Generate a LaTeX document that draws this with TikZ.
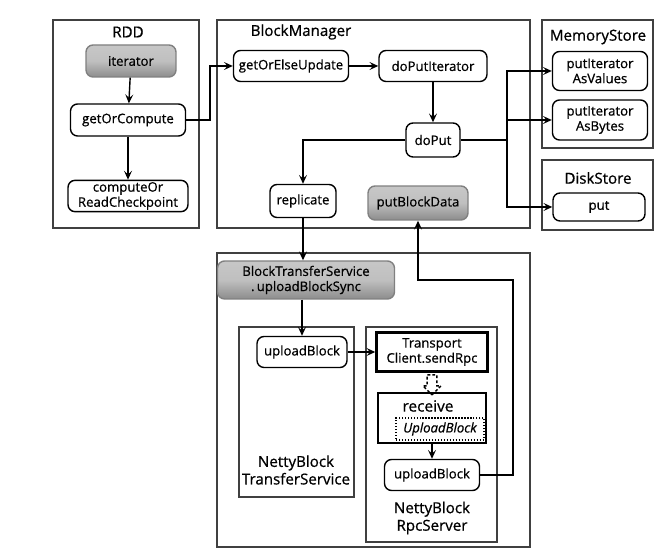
\documentclass[tikz,border=0pt]{standalone}
\usepackage{fontspec}
\setmainfont{Open Sans}[FakeBold=0.7]
\usepackage{tikz}
\usetikzlibrary{positioning,calc,arrows.meta,shapes}
\tikzset{grp/.style={draw=black!75, line width=0.7pt}}
\tikzset{ttl/.style={font=\fontsize{8.6}{10}\selectfont, align=center, inner sep=0pt}}
\tikzset{fn/.style={draw, line width=0.8pt, rounded corners=4, align=center, inner sep=1pt, font=\fontsize{7.5}{8.6}\selectfont}}
\tikzset{fngray/.style={fn, draw=black!50, top color=black!22, bottom color=black!45, middle color=black!25}}
\tikzset{rpc/.style={draw, line width=1.4pt, align=center, inner sep=1pt, font=\fontsize{7.5}{8.6}\selectfont}}
\tikzset{arr/.style={draw, -{Stealth[length=5pt,width=4.5pt,inset=2pt]}, line width=0.8pt}}
\tikzset{arr2/.style={draw, line width=0.8pt}}

\begin{document}
\begin{tikzpicture}[x=0.02cm, y=-0.02cm]
\useasboundingbox[fill=white] (0,0) rectangle (667,557);
% group boxes
\draw[grp] (53,20) rectangle (199,228);
\draw[grp] (217,20) rectangle (530,228);
\draw[grp] (542,20) rectangle (653,148);
\draw[grp] (542,160) rectangle (653,230);
\draw[grp] (217,253) rectangle (530,547);
\draw[grp] (239,327) rectangle (354,497);
\draw[grp] (366,327) rectangle (497,542);
%
\node[ttl] (trdd) at (128,32) {RDD};
\node[ttl] (tbm) at (301,32) {BlockManager};
\node[ttl] (tms) at (598,37) {MemoryStore};
\node[ttl] (tds) at (598,178) {DiskStore};
\node[ttl] (tnbts) at (296,470) {NettyBlock\\TransferService};
\node[ttl] (tnbrs) at (432,518) {NettyBlock\\RpcServer};
% RDD
\node[fngray, minimum width=1.8cm, minimum height=0.64cm] (iter) at (131,61) {iterator};
\node[fn, minimum width=2.3cm, minimum height=0.64cm] (goc) at (128,120) {getOrCompute};
\node[fn, minimum width=2.4cm, minimum height=0.62cm] (corc) at (128,196) {computeOr\\ReadCheckpoint};
% BlockManager
\node[fn, minimum width=2.3cm, minimum height=0.62cm] (goeu) at (291,66) {getOrElseUpdate};
\node[fn, minimum width=2.16cm, minimum height=0.62cm] (dpi) at (433,66) {doPutIterator};
\node[fn, minimum width=1.08cm, minimum height=0.68cm] (doput) at (433,140) {doPut};
\node[fn, minimum width=1.32cm, minimum height=0.66cm] (repl) at (303,201) {replicate};
\node[fngray, minimum width=2cm, minimum height=0.68cm] (pbd) at (418,203) {putBlockData};
% stores
\node[fn, minimum width=1.9cm, minimum height=0.78cm] (piv) at (600,71) {putIterator\\AsValues};
\node[fn, minimum width=1.9cm, minimum height=0.8cm] (pib) at (600,120) {putIterator\\AsBytes};
\node[fn, minimum width=1.84cm, minimum height=0.56cm] (dput) at (599,207) {put};
% transfer
\node[fngray, minimum width=3.54cm, minimum height=0.76cm] (ubs) at (306,280) {BlockTransferService\\.\,uploadBlockSync};
\node[fn, minimum width=1.8cm, minimum height=0.62cm] (ubl) at (302,352) {uploadBlock};
\node[rpc, minimum width=2.22cm, minimum height=0.78cm] (send) at (432,352) {Transport\\Client.sendRpc};
\node[rpc, minimum width=2.16cm, minimum height=1cm] (recv) at (432,418) {};
\node[font=\fontsize{8.8}{10}\selectfont, inner sep=0pt] (recvt) at (428,406) {receive};
\node[draw, densely dotted, line width=0.7pt, minimum width=1.76cm, minimum height=0.44cm, inner sep=1pt, font=\itshape\fontsize{7.5}{8.6}\selectfont] (upb) at (440,429) {UploadBlock};
\node[fn, minimum width=1.9cm, minimum height=0.62cm] (ubr) at (432,475) {uploadBlock};
% hollow dashed arrow send -> receive
\node[single arrow, draw, dash pattern=on 1.6pt off 1.2pt, line width=0.8pt, rotate=-90, minimum height=0.4cm, minimum width=0.36cm, single arrow head extend=2.2pt, inner sep=2.2pt] (sdarr) at (432,382.5) {};
%
\coordinate (j1) at (210,93);
\coordinate (split) at (507,140);
\coordinate (j2) at (513,280);
%
\draw[arr] (iter) -- (goc);
\draw[arr] (goc) -- (corc);
\draw[arr] (goc.east) -| (j1) |- (goeu.west);
\draw[arr] (goeu) -- (dpi);
\draw[arr] (dpi) -- (doput);
\draw[arr] (doput.west) -| (repl.north);
\draw[arr2] (doput.east) -- (split);
\draw[arr] (split) |- (piv.west);
\draw[arr] (split) |- (pib.west);
\draw[arr] (split) |- (dput.west);
\draw[arr] (repl.south) -- (repl.south |- ubs.north);
\draw[arr] (ubl.north |- ubs.south) -- (ubl.north);
\draw[arr] (ubl) -- (send);
\draw[arr] (recv) -- (ubr);
\draw[arr] (ubr.east) -| (j2) -| (pbd.south);
\end{tikzpicture}
\end{document}
